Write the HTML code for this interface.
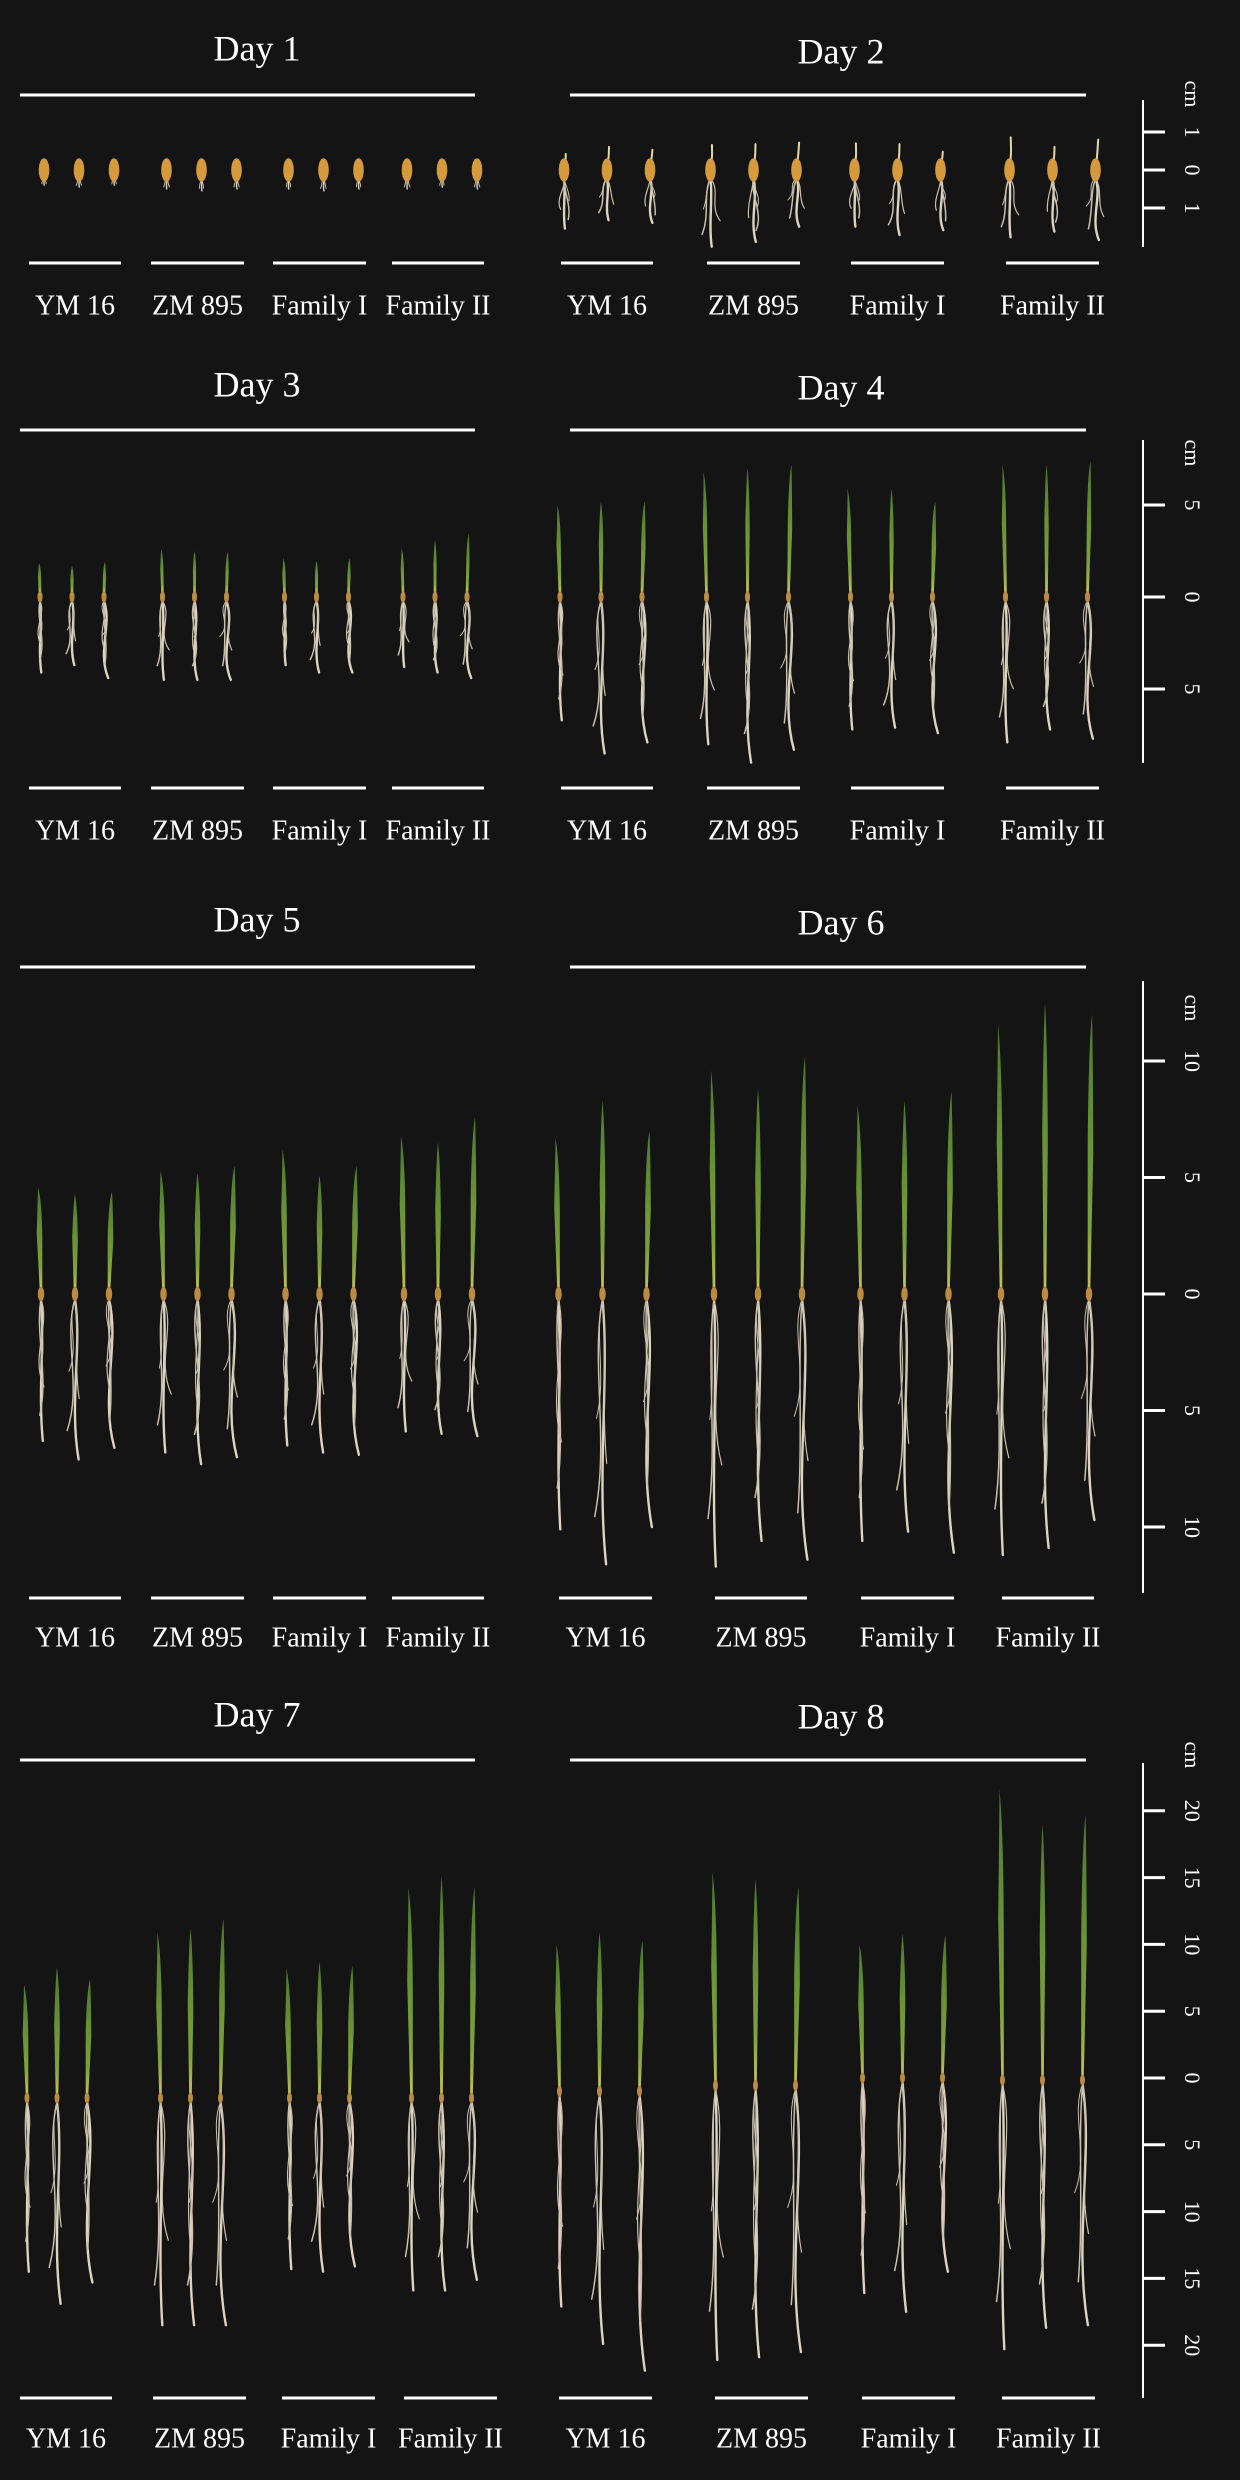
<!DOCTYPE html>
<html><head><meta charset="utf-8"><title>Seedling growth Day 1-8</title>
<style>
html,body{margin:0;padding:0;background:#141414;}
svg{display:block;}
text{font-family:"Liberation Serif",serif;fill:#fff;}
</style></head>
<body>
<svg id="fig" width="1240" height="2480" viewBox="0 0 1240 2480" xmlns="http://www.w3.org/2000/svg">
<defs>
<linearGradient id="leafGrad" x1="0" y1="1" x2="0" y2="0">
<stop offset="0" stop-color="#c4c05a"/>
<stop offset="0.22" stop-color="#7ea23c"/>
<stop offset="1" stop-color="#4b7a2d"/>
</linearGradient>
</defs>
<rect x="0" y="0" width="1240" height="2480" fill="#141414"/>
</svg>
<script>
// ---- data (cm) ----
const days = ['Day 1','Day 2','Day 3','Day 4','Day 5','Day 6','Day 7','Day 8'];
const groups = ['YM 16','ZM 895','Family I','Family II'];
// shoot tip height above 0 line, cm (12 seedlings per day: 3 per group)
const shootTop1 = [0,0,0,0,0,0,0,0,0,0,0,0];
const shootTop2 = [0.42,0.61,0.53,0.66,0.68,0.72,0.70,0.68,0.48,0.86,0.61,0.80];
const shootTop3 = [1.85,1.7,1.9,2.6,2.5,2.45,2.1,1.95,2.1,2.65,3.1,3.45];
const shootTop4 = [5.0,5.2,5.2,6.8,7.0,7.2,5.9,5.9,5.2,7.2,7.2,7.4];
const shootTop5 = [4.6,4.3,4.4,5.3,5.2,5.5,6.2,5.1,5.5,6.8,6.5,7.6];
const shootTop6 = [6.7,8.3,7.0,9.6,8.8,10.2,8.1,8.3,8.7,11.6,12.5,12.0];
const shootTop7 = [7.0,8.3,7.4,10.9,11.2,11.9,8.2,8.7,8.4,14.3,15.1,14.3];
const shootTop8 = [10.0,10.9,10.3,15.4,14.9,14.3,10.0,10.8,10.7,21.6,19.0,19.7];
// root tip depth below 0 line, cm
const rootBottom1 = [0.4,0.45,0.4,0.5,0.55,0.5,0.5,0.55,0.5,0.5,0.45,0.5];
const rootBottom2 = [1.54,1.32,1.39,2.02,1.89,1.49,1.49,1.71,1.58,1.77,1.62,1.84];
const rootBottom3 = [4.1,3.7,4.4,4.5,4.5,4.5,3.7,4.1,4.1,3.8,4.1,4.4];
const rootBottom4 = [6.7,8.5,7.9,8.0,9.0,8.3,7.2,7.1,7.4,7.9,7.2,7.7];
const rootBottom5 = [6.3,7.1,6.6,6.8,7.3,7.0,6.5,6.8,6.9,5.9,6.0,6.1];
const rootBottom6 = [10.1,11.6,10.0,11.7,10.6,11.4,10.6,10.2,11.1,11.2,10.9,9.7];
const rootBottom7 = [14.5,16.9,15.3,18.5,18.5,18.5,14.3,14.5,14.1,15.9,15.9,15.1];
const rootBottom8 = [17.1,19.9,21.9,21.1,20.9,20.5,16.1,17.5,14.5,20.3,18.7,18.5];
// grain (seed) depth below 0 line, cm
const grainDepth7 = [1.5,1.5,1.5,1.5,1.5,1.5,1.5,1.5,1.5,1.5,1.5,1.5];
const grainDepth8 = [1.0,1.0,1.0,0.56,0.56,0.56,0,0,0,0.16,0.16,0.16];
const zeros12 = [0,0,0,0,0,0,0,0,0,0,0,0];
const axisTicks1 = [-1,0,1];
const axisTicks2 = [-5,0,5];
const axisTicks3 = [-10,-5,0,5,10];
const axisTicks4 = [-20,-15,-10,-5,0,5,10,15,20];

const shootTops = [shootTop1,shootTop2,shootTop3,shootTop4,shootTop5,shootTop6,shootTop7,shootTop8];
const rootBottoms = [rootBottom1,rootBottom2,rootBottom3,rootBottom4,rootBottom5,rootBottom6,rootBottom7,rootBottom8];
const grainDepths = [zeros12,zeros12,zeros12,zeros12,zeros12,zeros12,grainDepth7,grainDepth8];
const rowTicks = [axisTicks1,axisTicks2,axisTicks3,axisTicks4];

// ---- layout ----
const NS = 'http://www.w3.org/2000/svg';
const svg = document.getElementById('fig');
const rows = [
  {zero:170, scale:38, titleY:[52,55], topLine:95, groupY:263, labelY:308, axis:[100,247], cmY:94,
   gl:[[29,121],[151,244],[273,366],[392,484]], gr:[[561,653],[707,800],[851,944],[1006,1099]],
   spL:35, shL:4, spR:43, shR:0},
  {zero:597, scale:18.4, titleY:[388,391], topLine:430, groupY:788, labelY:833, axis:[440,763], cmY:453,
   gl:[[29,121],[151,244],[273,366],[392,484]], gr:[[561,653],[707,800],[851,944],[1006,1099]],
   spL:32, shL:-3, spR:41, shR:-6},
  {zero:1294, scale:23.3, titleY:[923,926], topLine:967, groupY:1598, labelY:1640, axis:[981,1593], cmY:1008,
   gl:[[29,121],[151,244],[273,366],[392,484]], gr:[[559,652],[715,807],[861,954],[1002,1094]],
   spL:34, shL:0, spR:44, shR:-3},
  {zero:2078, scale:13.36, titleY:[1718,1720], topLine:1760, groupY:2398, labelY:2441, axis:[1763,2398], cmY:1755,
   gl:[[20,112],[153,246],[282,375],[404,497]], gr:[[559,652],[715,808],[862,955],[1002,1095]],
   spL:30, shL:-9, spR:40, shR:-6}
];

function mk(tag, attrs, parent){
  const e = document.createElementNS(NS, tag);
  for (const k in attrs) e.setAttribute(k, attrs[k]);
  (parent||svg).appendChild(e);
  return e;
}

function drawSeedling(g, x, zero, scale, top, bottom, depth, dayIdx, k){
  const gy = zero + depth*scale;                       // grain center
  const gh = Math.max(11, Math.min(24, 0.62*scale));
  const gw = gh*0.45;
  // roots
  const rootStart = gy + gh*0.35;
  const rootEnd = zero + bottom*scale;
  const L = rootEnd - rootStart;
  if (L > 2){
    const amp = Math.min(6, L*0.06);
    const variants = dayIdx===0 ? [[1,0,1.4],[0.8,-1,1],[0.8,1,1]] :
      [[1,0,2.4],[0.82,-1,1.5],[0.62,1,1.2],[0.45,-1,1.0]];
    const spreadMul = dayIdx===0 ? 1.2 : (dayIdx===1 ? 3 : 1.2);
    variants.forEach((v,i)=>{
      const len = L*v[0];
      const dir = (i%2===0?1:-1)*(((k+i)%3)+1);
      const spread = v[1]*spreadMul*((k%2)?1:-1);
      const x1 = x + spread + dir*amp*0.6;
      const x2 = x - dir*amp*0.5 + spread*1.5;
      const x3 = x + spread*2 + dir*amp*0.3;
      const p = mk('path', {d:`M${x},${rootStart} C${x1},${rootStart+len*0.3} ${x2},${rootStart+len*0.65} ${x3},${rootStart+len}`,
        stroke:i===0?'#ddd4c0':'#c9c0ad', 'stroke-width':v[2], fill:'none','stroke-linecap':'round'}, g);
      
      
    });
  }
  // shoot
  const tipY = zero - top*scale;
  const baseY = gy - gh*0.3;
  const H = baseY - tipY;
  if (H > 2){
    const lean = ((k%3)-1)*Math.min(3, H*0.03);
    let sh;
    if (dayIdx===1){
      sh = mk('path', {d:`M${x+1},${baseY} Q${x+2},${baseY-H*0.5} ${x+2+lean},${tipY}`, stroke:'#e2d9a2','stroke-width':2,fill:'none','stroke-linecap':'round'}, g);
    } else {
      const w = dayIdx===2 ? 1.6 : (dayIdx===3 ? 2.2 : 2.8);
      const b = 1.3;
      const mx = x + lean*0.5;
      sh = mk('path', {d:`M${x-b},${baseY} L${mx-w},${baseY-H*0.55} Q${mx-w*0.6},${baseY-H*0.9} ${x+lean},${tipY} Q${mx+w*0.9},${baseY-H*0.85} ${mx+w},${baseY-H*0.5} L${x+b},${baseY} Z`,
        fill:'url(#leafGrad)'}, g);
    }
    
    
  }
  // grain
  const gr = mk('ellipse', {cx:x, cy:gy, rx:gw/2, ry:gh/2, fill: dayIdx<2 ? '#d49a3c' : '#b98c42'}, g);
  
  
}

days.forEach((day, d)=>{
  const r = rows[Math.floor(d/2)];
  const right = d%2===1;
  const panel = mk('g', {});
  
  
  const t = mk('text', {x: right?841:257, y: r.titleY[right?1:0], 'font-size':36, 'text-anchor':'middle','dominant-baseline':'middle'}, panel);
  t.textContent = day;
  
  
  const tl = mk('line', {x1: right?570:20, x2: right?1086:475, y1:r.topLine, y2:r.topLine, stroke:'#fff','stroke-width':3}, panel);
  
  
  const gl = right ? r.gr : r.gl;
  const sp = right ? r.spR : r.spL;
  const sh = right ? r.shR : r.shL;
  groups.forEach((gname, gi)=>{
    const grp = mk('g', {}, panel);
    
    
    const cx = (gl[gi][0]+gl[gi][1])/2;
    for (let j=0;j<3;j++){
      const k = gi*3+j;
      drawSeedling(grp, cx+sh+(j-1)*sp, r.zero, r.scale, shootTops[d][k], rootBottoms[d][k], grainDepths[d][k], d, k);
    }
    const ln = mk('line', {x1:gl[gi][0], x2:gl[gi][1], y1:r.groupY, y2:r.groupY, stroke:'#fff','stroke-width':3}, grp);
    
    
    const lb = mk('text', {x:cx, y:r.labelY, 'font-size':28, 'text-anchor':'middle','dominant-baseline':'middle'}, grp);
    lb.textContent = gname;
    
    
  });
  if (right){
    const ax = mk('g', {}, panel);
    
    
    const al = mk('line', {x1:1143,x2:1143,y1:r.axis[0],y2:r.axis[1],stroke:'#fff','stroke-width':2}, ax);
    
    
    rowTicks[Math.floor(d/2)].forEach(v=>{
      const y = r.zero + v*r.scale;
      const tk = mk('line', {x1:1143,x2:1165,y1:y,y2:y,stroke:'#fff','stroke-width':3}, ax);
      
      
      const tx = mk('text', {x:1190,y:y,'font-size':22,'text-anchor':'middle','dominant-baseline':'middle',transform:`rotate(90 1190 ${y})`}, ax);
      tx.textContent = String(Math.abs(v));
      
      
    });
    const cm = mk('text', {x:1190,y:r.cmY,'font-size':22,'text-anchor':'middle','dominant-baseline':'middle',transform:`rotate(90 1190 ${r.cmY})`}, ax);
    cm.textContent = 'cm';
    
    
  }
});
</script>
</body></html>
